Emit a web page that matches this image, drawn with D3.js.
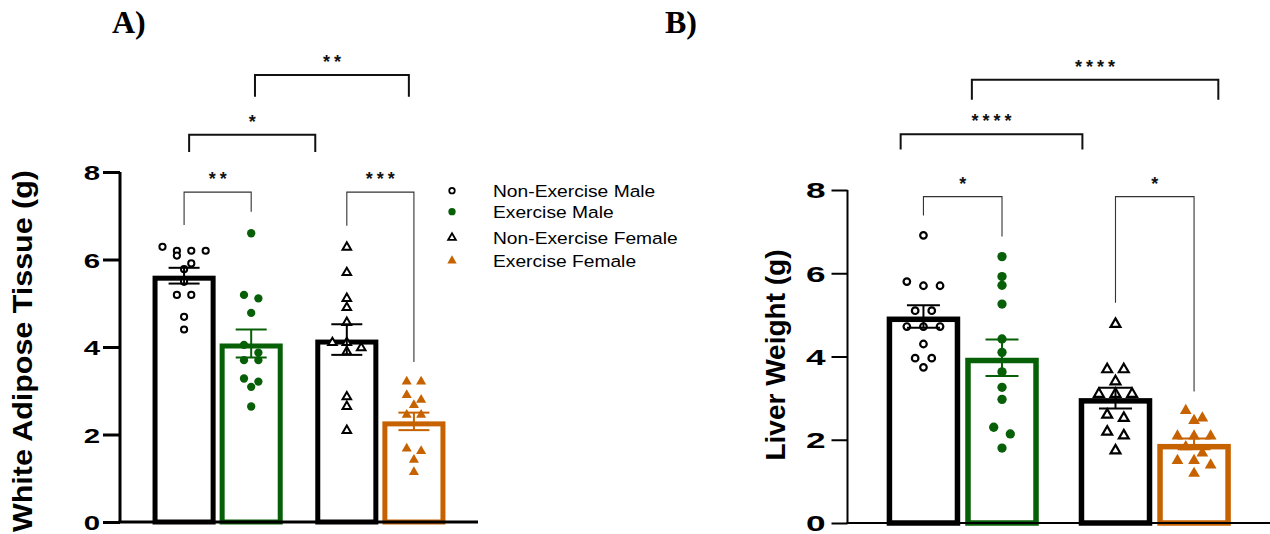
<!DOCTYPE html>
<html><head><meta charset="utf-8">
<script src="https://cdn.jsdelivr.net/npm/d3@7"></script>
<style>body{margin:0;background:#fff}svg{display:block}</style>
</head><body>
<svg id="chart" width="1270" height="534"></svg>
<script>
// ---------- data ----------
const groups = ["Non-Exercise Male", "Exercise Male", "Non-Exercise Female", "Exercise Female"];
const sexes = ["Male", "Female"];
const conditions = ["Non-Exercise", "Exercise"];
const yTickValues = [0, 2, 4, 6, 8];

// Panel A: White Adipose Tissue (g)
const watNonExMale   = [6.29, 6.20, 6.20, 6.20, 6.09, 5.91, 5.78, 5.49, 5.19, 5.19, 4.69, 4.40];
const watExMale      = [6.60, 5.19, 5.11, 4.78, 4.05, 3.87, 3.70, 3.70, 3.28, 3.21, 3.09, 2.64];
const watNonExFemale = [6.28, 5.70, 5.11, 4.90, 4.56, 4.10, 4.10, 3.98, 3.89, 2.86, 2.64, 2.09];
const watExFemale    = [3.21, 3.21, 2.90, 2.79, 2.67, 2.45, 2.45, 1.68, 1.62, 1.42, 1.14];
const watMeans = [5.63, 4.08, 4.17, 2.30];
const watSem   = [0.18, 0.32, 0.35, 0.20];

// Panel B: Liver Weight (g)
const liverNonExMale   = [6.91, 5.80, 5.70, 5.70, 5.10, 5.10, 4.72, 4.72, 4.72, 4.30, 3.96, 3.96, 3.74];
const liverExMale      = [6.40, 5.92, 5.71, 5.26, 4.42, 4.10, 3.63, 3.26, 2.97, 2.30, 2.14, 1.80];
const liverNonExFemale = [4.78, 3.69, 3.69, 3.40, 3.10, 3.10, 3.10, 2.60, 2.52, 2.19, 2.10, 1.74];
const liverExFemale    = [2.70, 2.52, 2.46, 2.09, 2.09, 2.09, 1.83, 1.68, 1.50, 1.50, 1.39, 1.19];
const liverMeans = [4.96, 3.97, 3.00, 1.90];
const liverSem   = [0.27, 0.44, 0.25, 0.13];

// significance brackets: groups compared, label, bracket level and leg ends (data units)
const watSig = [
  {a: 0, b: 1, label: "**",  y: 7.54,  ya: 6.79, yb: 7.09, fa: 0.00, fb: 0.00},
  {a: 2, b: 3, label: "***", y: 7.54,  ya: 6.77, yb: 3.66, fa: 0.00, fb: 0.00},
  {a: 0, b: 2, label: "*",   y: 8.85,  ya: 8.46, yb: 8.46, fa: 0.08, fb: -0.50},
  {a: 1, b: 3, label: "**",  y: 10.22, ya: 9.72, yb: 9.72, fa: 0.06, fb: -0.08}
];
const liverSig = [
  {a: 0, b: 1, label: "*",    y: 7.84,  ya: 7.39,  yb: 6.88,  fa: 0.00,  fb: 0.00},
  {a: 2, b: 3, label: "*",    y: 7.84,  ya: 5.29,  yb: 3.16,  fa: 0.00,  fb: 0.00},
  {a: 0, b: 2, label: "****", y: 9.34,  ya: 8.97,  yb: 8.97,  fa: -0.31, fb: -0.45},
  {a: 1, b: 3, label: "****", y: 10.65, ya: 10.17, yb: 10.17, fa: -0.41, fb: 0.33}
];

// ---------- styles ----------
const GREEN = "#075f07", ORANGE = "#c66300";
const colors = ["#000000", GREEN, "#000000", ORANGE];
const shapes = ["circle", "circle", "triangle", "triangle"];
const filled = [false, true, false, true];

const svg = d3.select("#chart");
const FONT = "'Liberation Sans', Arial, sans-serif";

function stretch(sel, f) {
  sel.each(function () {
    const L = this.getComputedTextLength();
    this.setAttribute("textLength", L * f);
    this.setAttribute("lengthAdjust", "spacingAndGlyphs");
  });
}

function swarmOffsets(vals, y, half, minDy) {
  const idx = vals.map((v, i) => i).sort((p, q) => vals[q] - vals[p]);
  const off = new Array(vals.length).fill(0);
  let row = [], rowY = null;
  const flush = () => { const n = row.length; row.forEach((i, k) => off[i] = (k - (n - 1) / 2) * 2 * half); row = []; };
  idx.forEach(i => {
    const py = y(vals[i]);
    if (rowY === null || py - rowY >= minDy) { flush(); rowY = py; }
    row.push(i);
  });
  flush();
  return off;
}

function drawPanel(cfg) {
  const g = svg.append("g");
  const y = d3.scaleLinear().domain([0, 8]).range(cfg.yRange);
  const x0 = d3.scaleBand().domain(sexes).range(cfg.xRange).paddingInner(cfg.pi).paddingOuter(cfg.po);
  const x1 = d3.scaleBand().domain(conditions).range([0, x0.bandwidth()]).paddingInner(cfg.ip);
  const gx = i => x0(sexes[Math.floor(i / 2)]) + x1(conditions[i % 2]);
  const cx = i => gx(i) + x1.bandwidth() / 2;
  const bw = x1.bandwidth();

  // bars (stroke inside)
  const sw = cfg.barStroke;
  groups.forEach((name, i) => {
    g.append("rect")
      .attr("x", gx(i) + sw / 2).attr("y", y(cfg.means[i]) + sw / 2)
      .attr("width", bw - sw).attr("height", y(0) - y(cfg.means[i]) - sw / 2)
      .attr("fill", "#fff").attr("stroke", colors[i]).attr("stroke-width", sw);
  });

  // points
  groups.forEach((name, i) => {
    const vals = cfg.points[i];
    const offs = swarmOffsets(vals, y, cfg.half, cfg.minDy);
    const isTri = shapes[i] === "triangle";
    const size = filled[i] ? (isTri ? cfg.triFill : cfg.dotFill) : (isTri ? cfg.triOpen : cfg.dotOpen);
    const sym = d3.symbol().type(isTri ? d3.symbolTriangle : d3.symbolCircle).size(size);
    g.selectAll(null).data(vals).enter().append("path")
      .attr("d", sym)
      .attr("transform", (d, k) => `translate(${cx(i) + offs[k]},${y(d)})`)
      .attr("fill", filled[i] ? colors[i] : "#fff")
      .attr("stroke", filled[i] ? "none" : colors[i])
      .attr("stroke-width", cfg.markStroke);
  });

  // error bars
  groups.forEach((name, i) => {
    const m = cfg.means[i], s = cfg.sem[i];
    const eg = g.append("g").attr("stroke", colors[i]).attr("stroke-width", cfg.errStroke);
    eg.append("line").attr("x1", cx(i)).attr("x2", cx(i)).attr("y1", y(m - s)).attr("y2", y(m + s));
    [m - s, m + s].forEach(v => eg.append("line")
      .attr("x1", cx(i) - cfg.cap).attr("x2", cx(i) + cfg.cap).attr("y1", y(v)).attr("y2", y(v)));
  });

  // axes
  const ax = g.append("g").attr("transform", `translate(${cfg.xRange[0]},0)`)
    .call(d3.axisLeft(y).tickValues(yTickValues).tickSize(cfg.tickLen).tickSizeOuter(0).tickPadding(cfg.tickPad).tickFormat(d3.format("d")));
  ax.selectAll("path,line").attr("stroke", "#000").attr("stroke-width", cfg.axisStroke);
  ax.select("path.domain").attr("d", `M0,${y(8)}V${y(0)}`);
  const tl = ax.selectAll("text").attr("font-family", FONT).attr("font-weight", "bold")
    .attr("font-size", cfg.tickFont).attr("fill", "#000").attr("dy", "0.36em");
  stretch(tl, cfg.tickStretch);
  g.append("line").attr("x1", cfg.xRange[0] - cfg.axisStroke / 2).attr("x2", cfg.xRange[1])
    .attr("y1", y(0)).attr("y2", y(0)).attr("stroke", "#000").attr("stroke-width", cfg.axisStroke);

  // y label
  const yl = g.append("text").text(cfg.yLabel)
    .attr("transform", `translate(${cfg.yLabelX},${cfg.yLabelY}) rotate(-90)`)
    .attr("text-anchor", "middle").attr("font-family", FONT).attr("font-weight", "bold")
    .attr("font-size", cfg.yLabelFont).attr("fill", "#000");
  if (cfg.yLabelLen) yl.attr("textLength", cfg.yLabelLen).attr("lengthAdjust", "spacingAndGlyphs");

  // brackets
  cfg.sig.forEach(b => {
    const xa = cx(b.a) + b.fa * bw, xb = cx(b.b) + b.fb * bw;
    const big = (b.b - b.a) > 1;
    g.append("path")
      .attr("d", `M${xa},${y(b.ya)}V${y(b.y)}H${xb}V${y(b.yb)}`)
      .attr("fill", "none").attr("stroke", big ? "#111" : "#333")
      .attr("stroke-width", big ? 2 : 1.1);
    g.append("text").text(b.label)
      .attr("x", (xa + xb) / 2 + cfg.starLs / 2).attr("y", y(b.y) - cfg.starGap)
      .attr("text-anchor", "middle").attr("font-family", FONT).attr("font-weight", "bold")
      .attr("font-size", cfg.starFont).attr("letter-spacing", cfg.starLs).attr("fill", "#111");
  });

  // panel title
  g.append("text").text(cfg.title).attr("x", cfg.titleX).attr("y", 33)
    .attr("font-family", "'Liberation Serif', 'Times New Roman', serif").attr("font-weight", "bold")
    .attr("font-size", 32).attr("fill", "#000");
  return {x0, x1, y};
}

drawPanel({
  title: "A)", titleX: 112,
  yRange: [522, 172], xRange: [120, 478], pi: 0.2, po: 0.2, ip: 0.06,
  means: watMeans, sem: watSem,
  points: [watNonExMale, watExMale, watNonExFemale, watExFemale],
  barStroke: 5, axisStroke: 3, tickLen: 17, tickPad: 3, tickFont: 21, tickStretch: 1.4,
  half: 7.2, minDy: 8, dotOpen: 30, dotFill: 54, triOpen: 32, triFill: 44, markStroke: 2,
  errStroke: 2, cap: 15.5,
  yLabel: "White Adipose Tissue  (g)", yLabelX: 32, yLabelY: 351, yLabelFont: 27, yLabelLen: 362,
  sig: watSig, starFont: 18, starLs: 4, starGap: 7
});

drawPanel({
  title: "B)", titleX: 665,
  yRange: [523, 190], xRange: [847.5, 1270], pi: 0.208, po: 0.204, ip: 0.064,
  means: liverMeans, sem: liverSem,
  points: [liverNonExMale, liverExMale, liverNonExFemale, liverExFemale],
  barStroke: 5.5, axisStroke: 2, tickLen: 16, tickPad: 6, tickFont: 22, tickStretch: 1.6,
  half: 8.3, minDy: 8.5, dotOpen: 34, dotFill: 68, triOpen: 42, triFill: 60, markStroke: 2.2,
  errStroke: 2, cap: 16.5,
  yLabel: "Liver Weight (g)", yLabelX: 785, yLabelY: 355, yLabelFont: 28, yLabelLen: null,
  sig: liverSig, starFont: 18, starLs: 4, starGap: 7
});

// legend
const legend = svg.append("g");
const legY = [190.7, 211.7, 237.7, 260.7];
groups.forEach((name, i) => {
  const isTri = shapes[i] === "triangle";
  const size = filled[i] ? (isTri ? 38 : 42) : (isTri ? 26 : 24);
  legend.append("path")
    .attr("d", d3.symbol().type(isTri ? d3.symbolTriangle : d3.symbolCircle).size(size))
    .attr("transform", `translate(452,${legY[i]})`)
    .attr("fill", filled[i] ? colors[i] : "#fff")
    .attr("stroke", filled[i] ? "none" : colors[i]).attr("stroke-width", 1.8);
  const t = legend.append("text").text(name).attr("x", 493).attr("y", legY[i] + 6)
    .attr("font-family", FONT).attr("font-size", 16.3).attr("fill", "#000");
  stretch(t, 1.18);
});
</script>
</body></html>
